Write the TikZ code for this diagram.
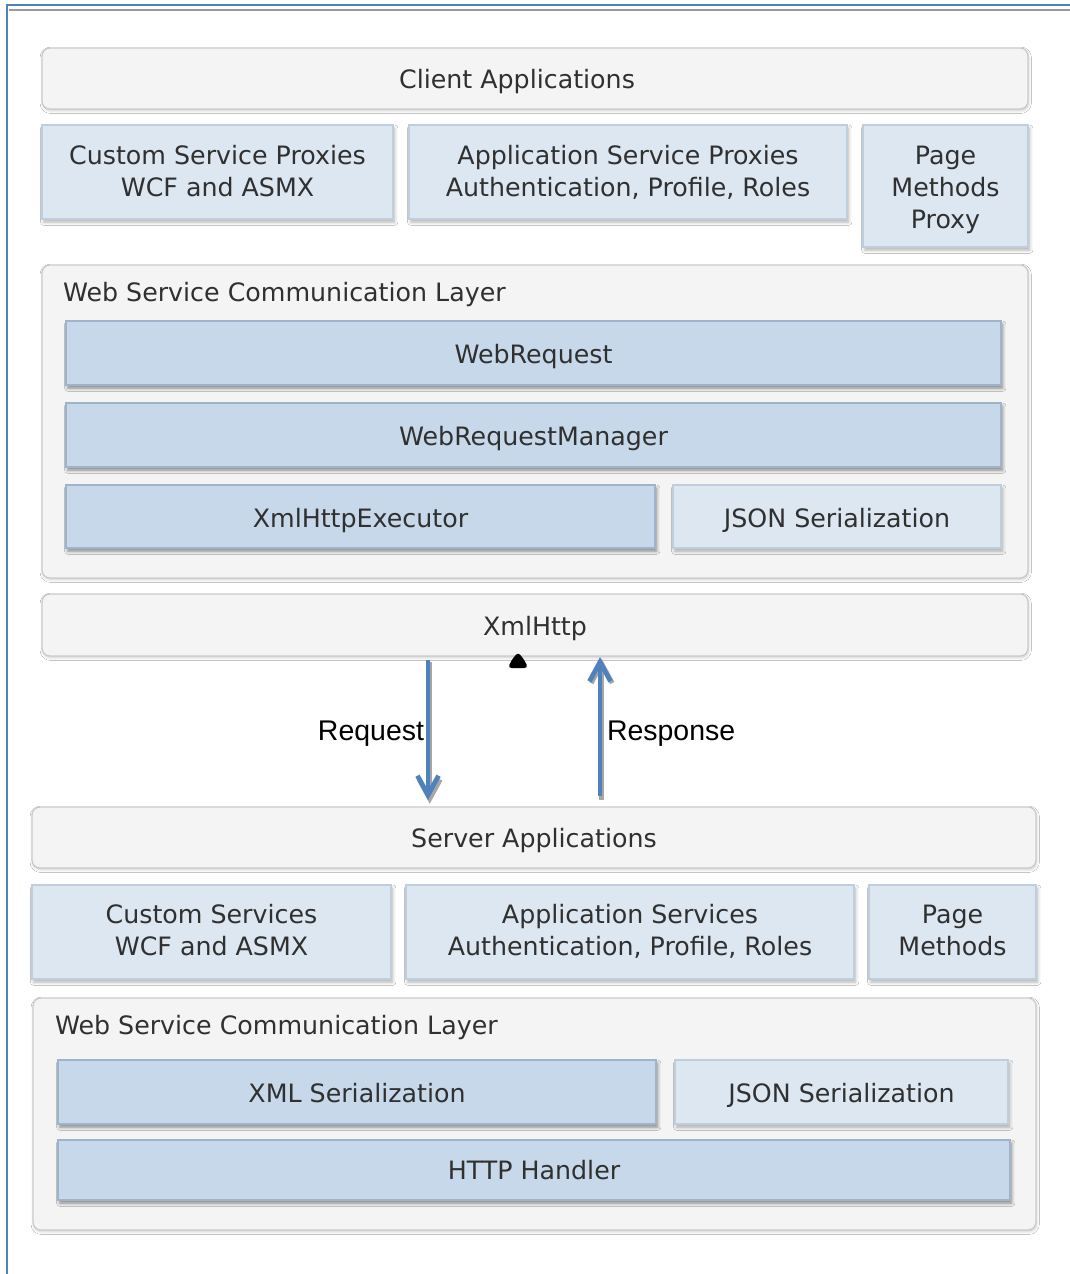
\documentclass[tikz,border=0pt]{standalone}
\usepackage{fontspec}
\setmainfont{DejaVu Sans}
\newfontfamily\arialfont{Liberation Sans}
\usetikzlibrary{shadows.blur, arrows.meta, calc}

\definecolor{panelfill}{HTML}{F4F4F4}
\definecolor{panelline}{HTML}{CBCBCB}
\definecolor{dfill}{HTML}{C6D8E9}
\definecolor{dline}{HTML}{9FB4CA}
\definecolor{lfill}{HTML}{DCE7F2}
\definecolor{lline}{HTML}{BFCEDD}
\definecolor{txt}{HTML}{303030}
\definecolor{frameblue}{HTML}{4F81BD}
\definecolor{flowblue}{HTML}{4F81BD}

\newlength\px
\setlength\px{0.02cm}

% box helper: [style]{name}{x1}{y1}{x2}{y2}{text}{text offset}
\newcommand\blk[8][]{%
  \node[#1, minimum width={(#5-#3)*\px}, minimum height={(#6-#4)*\px}]
    (#2) at ({(#3+#5)/2},{(#4+#6)/2}) {};
  \node (#2-t) at ({(#3+#5)/2},{(#4+#6)/2+#8}) {#7};}

\begin{document}
\begin{tikzpicture}[x=\px, y=-\px,
  every node/.style={inner sep=0pt, outer sep=0pt, align=center,
    font=\fontsize{14.4}{18.2}\selectfont, text=txt},
  panel/.style={draw=panelline, fill=panelfill, line width=0.75pt,
    rounded corners=4.5pt,
    blur shadow={shadow xshift=0.4pt, shadow yshift=-1pt,
      shadow opacity=20, shadow blur radius=1.5pt}},
  dbox/.style={draw=dline, fill=dfill, line width=0.75pt,
    blur shadow={shadow xshift=1pt, shadow yshift=-1.8pt,
      shadow opacity=45, shadow blur radius=1.8pt}},
  lbox/.style={draw=lline, fill=lfill, line width=0.75pt,
    blur shadow={shadow xshift=1pt, shadow yshift=-1.8pt,
      shadow opacity=30, shadow blur radius=1.8pt}},
  title/.style={anchor=west},
  flowlbl/.style={font=\arialfont\fontsize{16.2}{19}\selectfont, text=black},
  flow/.style={draw=flowblue, line width=2.7pt,
    -{Straight Barb[length=11pt, width=12pt, line width=2.7pt]}},
  flowshade/.style={draw=black!35, line width=2.7pt,
    -{Straight Barb[length=11pt, width=12pt, line width=2.7pt]}}
]
\useasboundingbox (0,0) rectangle (1070,1274);
\fill[white] (0,0) rectangle (1070,1274);

% page frame
\draw[black!40, line width=0.85pt] (9,10) -- (1070,10);
\draw[frameblue, line width=1.4pt] (7,1274) -- (7,5) -- (1070,5);

% ---------------- client side ----------------
\blk[panel]{clientapps}{42}{48}{1028}{109}{}{0}
\node (clientlbl) at (517,82) {Client Applications};

\blk[lbox]{csproxies}{42}{125}{393}{219}{Custom Service Proxies\\WCF and ASMX}{-1}
\blk[lbox]{asproxies}{409}{125}{847}{219}{Application Service Proxies\\Authentication, Profile, Roles}{0}
\blk[lbox]{pmproxy}{863}{125}{1028}{247}{Page\\Methods\\Proxy}{4}

\blk[panel]{clientwsc}{42}{265}{1028}{578}{}{0}
\node[title] (clientwsctitle) at (63,295) {Web Service Communication Layer};
\blk[dbox]{webrequest}{66}{321}{1001}{385}{WebRequest}{4}
\blk[dbox]{webreqmgr}{66}{403}{1001}{467}{WebRequestManager}{4}
\blk[dbox]{xhexec}{66}{485}{655}{548}{XmlHttpExecutor}{4}
\blk[lbox]{cjson}{673}{485}{1001}{548}{JSON Serialization}{4}

\blk[panel]{xmlhttp}{42}{594}{1028}{656}{XmlHttp}{4}

% ---------------- server side ----------------
\blk[panel]{server}{32}{807}{1036}{868}{Server Applications}{3}

\blk[lbox]{cservices}{32}{885}{391}{979}{Custom Services\\WCF and ASMX}{-2}
\blk[lbox]{aservices}{406}{885}{854}{979}{Application Services\\Authentication, Profile, Roles}{-1}
\blk[lbox]{pmethods}{869}{885}{1036}{979}{Page\\Methods}{-2}

\blk[panel]{serverwsc}{33}{998}{1036}{1230}{}{0}
\node[title] (serverwsctitle) at (55,1028) {Web Service Communication Layer};
\blk[dbox]{xmlser}{58}{1060}{656}{1124}{XML Serialization}{1}
\blk[lbox]{sjson}{675}{1060}{1008}{1124}{JSON Serialization}{3}
\blk[dbox]{httph}{58}{1140}{1010}{1200}{HTTP Handler}{0}

% small dark mark under XmlHttp
\fill[black, rounded corners=2pt] (508,668) -- (511,661) -- (518,652) -- (525,661)
  -- (528,668) -- cycle;

% ---------------- request / response ----------------
\coordinate (reqx) at (428,0);
\coordinate (rspx) at (600,0);

\draw[flowshade, shorten <=2.3pt, shorten >=2.8pt, transform canvas={xshift=1pt, yshift=-1pt}]
  (xmlhttp.south -| reqx) -- (server.north -| reqx);
\draw[flow, shorten <=2.3pt, shorten >=4pt]
  (xmlhttp.south -| reqx) -- (server.north -| reqx);

\draw[flowshade, shorten <=5pt, shorten >=0.6pt, transform canvas={xshift=1pt, yshift=-1pt}]
  (server.north -| rspx) -- (xmlhttp.south -| rspx);
\draw[flow, shorten <=6pt, shorten >=0.6pt]
  (server.north -| rspx) -- (xmlhttp.south -| rspx);

\node[flowlbl, anchor=east] (reqlbl) at (424,734) {Request};
\node[flowlbl, anchor=west] (rsplbl) at (607,734) {Response};
\end{tikzpicture}
\end{document}
